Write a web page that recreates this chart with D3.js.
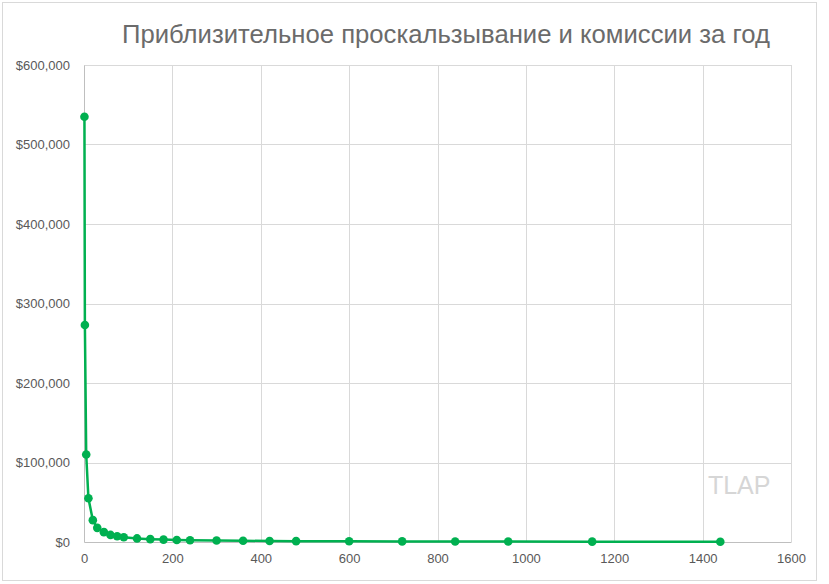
<!DOCTYPE html>
<html>
<head>
<meta charset="utf-8">
<script src="https://cdn.jsdelivr.net/npm/d3@7"></script>
<style>
  body { margin: 0; background: #fff; }
  text { font-family: "Liberation Sans", Arial, sans-serif; }
</style>
</head>
<body>
<div class="chart"></div>
<script>
var svgWidth = 829;
var svgHeight = 584;

// bar size in minutes and approx yearly cost
var periods = [1, 2, 5, 10, 20, 30, 45, 60, 75, 90, 120, 150, 180, 210, 240, 300, 360, 420, 480, 600, 720, 840, 960, 1150, 1440];
var costs = [535000, 273000, 110000, 55000, 27500, 17800, 12400, 8900, 7200, 6000, 4500, 3600, 3000, 2600, 2200, 1800, 1500, 1300, 1100, 900, 750, 640, 560, 470, 370];
var xTicks = [0, 200, 400, 600, 800, 1000, 1200, 1400, 1600];
var yTicks = [0, 100000, 200000, 300000, 400000, 500000, 600000];
var titleText = "Приблизительное проскальзывание и комиссии за год";

var margin = { top: 65, right: 38, bottom: 42, left: 84 };
var width = svgWidth - margin.left - margin.right;
var height = svgHeight - margin.top - margin.bottom;

var svg = d3.select(".chart")
  .append("svg")
  .attr("width", svgWidth)
  .attr("height", svgHeight);

// chart border
svg.append("rect")
  .attr("x", 2.5)
  .attr("y", 2.5)
  .attr("width", 814)
  .attr("height", 578)
  .attr("fill", "#fff")
  .attr("stroke", "#d9d9d9")
  .attr("stroke-width", 1);

svg.append("text")
  .attr("x", 446)
  .attr("y", 43)
  .attr("text-anchor", "middle")
  .attr("font-size", "25px")
  .attr("fill", "#6b6b6b")
  .attr("textLength", 648)
  .attr("lengthAdjust", "spacingAndGlyphs")
  .text(titleText);

var chartGroup = svg.append("g")
  .attr("transform", `translate(${margin.left}, ${margin.top})`);

var data = periods.map((p, i) => ({ x: p, y: costs[i] }));

var xScale = d3.scaleLinear().domain([0, 1600]).range([0, width]);
var yScale = d3.scaleLinear().domain([0, 600000]).range([height, 0]);

// gridlines
chartGroup.append("g")
  .selectAll("line")
  .data(yTicks.slice(1))
  .enter()
  .append("line")
  .attr("x1", 0)
  .attr("x2", width)
  .attr("y1", d => Math.round(yScale(d)) + 0.5)
  .attr("y2", d => Math.round(yScale(d)) + 0.5)
  .attr("stroke", "#d9d9d9");

chartGroup.append("g")
  .selectAll("line")
  .data(xTicks.slice(1))
  .enter()
  .append("line")
  .attr("x1", d => Math.round(xScale(d)) + 0.5)
  .attr("x2", d => Math.round(xScale(d)) + 0.5)
  .attr("y1", 0)
  .attr("y2", height)
  .attr("stroke", "#d9d9d9");

// axes
var leftAxis = d3.axisLeft(yScale)
  .tickValues(yTicks)
  .tickSize(0)
  .tickPadding(14)
  .tickFormat(d => "$" + d3.format(",")(d));

var bottomAxis = d3.axisBottom(xScale)
  .tickValues(xTicks)
  .tickSize(0)
  .tickPadding(12)
  .tickFormat(d3.format("d"));

var yAxis = chartGroup.append("g").call(leftAxis);
var xAxis = chartGroup.append("g")
  .attr("transform", `translate(0, ${height})`)
  .call(bottomAxis);

[yAxis, xAxis].forEach(function(ax) {
  ax.select(".domain").attr("stroke", "#bfbfbf");
  ax.selectAll("text")
    .attr("font-family", "Liberation Sans, Arial, sans-serif")
    .attr("font-size", "13px")
    .attr("fill", "#595959");
});

// watermark
chartGroup.append("text")
  .attr("x", xScale(1412))
  .attr("y", yScale(61000))
  .attr("font-size", "25px")
  .attr("fill", "#d6d6d6")
  .text("TLAP");

// series
var line = d3.line()
  .x(d => xScale(d.x))
  .y(d => yScale(d.y));

chartGroup.append("path")
  .datum(data)
  .attr("d", line)
  .attr("fill", "none")
  .attr("stroke", "#00b050")
  .attr("stroke-width", 2.5)
  .attr("stroke-linejoin", "round");

chartGroup.selectAll("circle")
  .data(data)
  .enter()
  .append("circle")
  .attr("cx", d => xScale(d.x))
  .attr("cy", d => yScale(d.y))
  .attr("r", 4.3)
  .attr("fill", "#00b050");
</script>
</body>
</html>
